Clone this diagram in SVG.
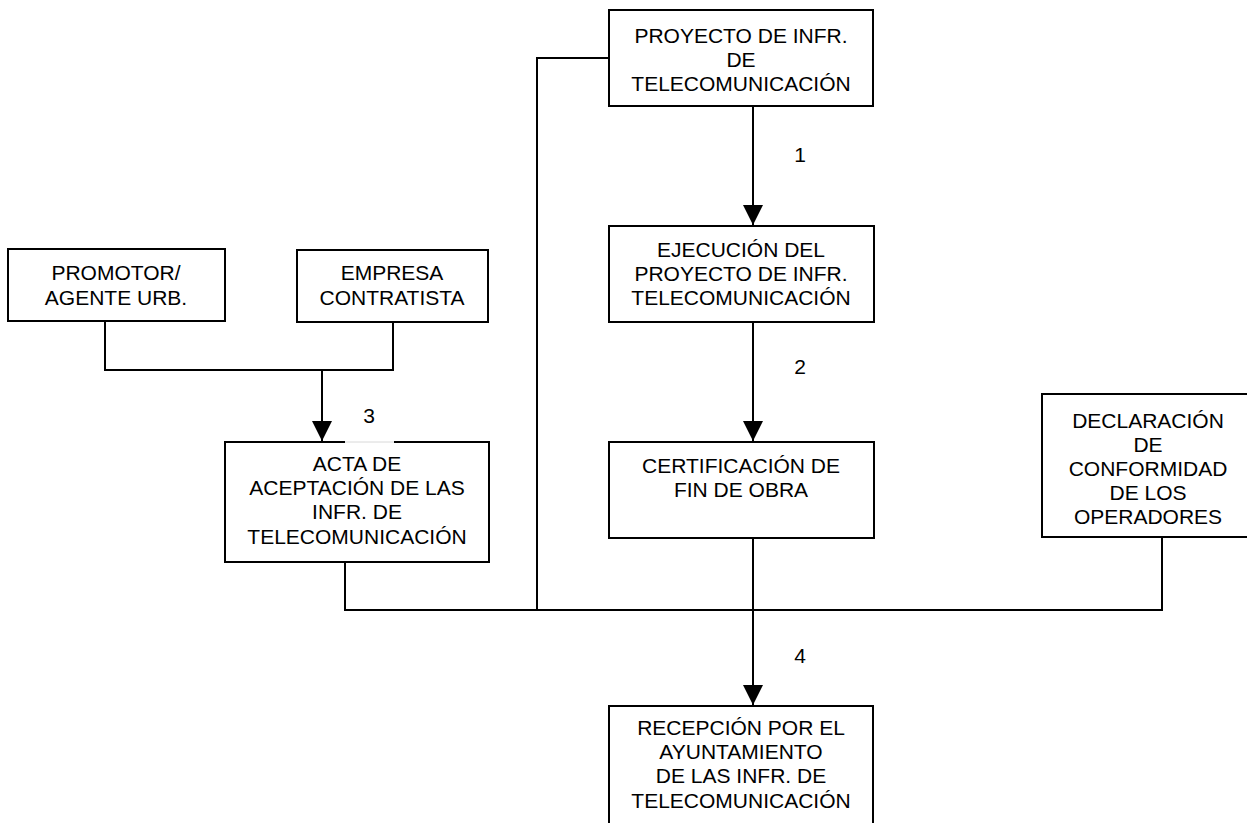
<svg xmlns="http://www.w3.org/2000/svg" width="1247" height="823" viewBox="0 0 1247 823">
  <defs>
    <style>
      .box { fill: #ffffff; stroke: #000000; stroke-width: 2; }
      .wire { fill: none; stroke: #000000; stroke-width: 2; }
      .lbl { font-family: "Liberation Sans", Arial, sans-serif; font-size: 21px; fill: #000000; text-anchor: middle; }
    </style>
    <marker id="head" viewBox="0 0 20 20" refX="20" refY="10" markerWidth="20" markerHeight="20" markerUnits="userSpaceOnUse" orient="auto">
      <path d="M0,0 L20,10 L0,20 Z" fill="#000000"/>
    </marker>
  </defs>
  <rect width="1247" height="823" fill="#ffffff"/>

  <!-- connectors -->
  <g id="connectors">
    <path class="wire" d="M753,106 V225" marker-end="url(#head)"/>
    <path class="wire" d="M753,322 V441" marker-end="url(#head)"/>
    <path class="wire" d="M105,321 V370 H393 V322"/>
    <path class="wire" d="M322,370 V441" marker-end="url(#head)"/>
    <path class="wire" d="M609,58 H537 V610"/>
    <path class="wire" d="M345,562 V610 H1162 V537"/>
    <path class="wire" d="M753,538 V705" marker-end="url(#head)"/>
  </g>

  <g id="n-proyecto">
    <rect class="box" x="609" y="10" width="264" height="96"/>
    <text class="lbl" x="741" y="43">PROYECTO DE INFR.</text>
    <text class="lbl" x="741" y="67">DE</text>
    <text class="lbl" x="741" y="91">TELECOMUNICACIÓN</text>
  </g>

  <g id="n-ejecucion">
    <rect class="box" x="609" y="226" width="265" height="96"/>
    <text class="lbl" x="741" y="257">EJECUCIÓN DEL</text>
    <text class="lbl" x="741" y="281">PROYECTO DE INFR.</text>
    <text class="lbl" x="741" y="305">TELECOMUNICACIÓN</text>
  </g>

  <g id="n-certificacion">
    <rect class="box" x="609" y="442" width="265" height="96"/>
    <text class="lbl" x="741" y="473">CERTIFICACIÓN DE</text>
    <text class="lbl" x="741" y="497">FIN DE OBRA</text>
  </g>

  <g id="n-promotor">
    <rect class="box" x="8" y="249" width="217" height="72"/>
    <text class="lbl" x="116" y="280">PROMOTOR/</text>
    <text class="lbl" x="116" y="305">AGENTE URB.</text>
  </g>

  <g id="n-empresa">
    <rect class="box" x="297" y="250" width="191" height="72"/>
    <text class="lbl" x="392" y="280">EMPRESA</text>
    <text class="lbl" x="392" y="305">CONTRATISTA</text>
  </g>

  <g id="n-acta">
    <rect class="box" x="225" y="442" width="264" height="120"/>
    <line x1="345" y1="442" x2="394" y2="442" stroke="#ffffff" stroke-width="3"/>
    <line x1="345" y1="442" x2="394" y2="442" stroke="#d8d8d8" stroke-width="1"/>
    <text class="lbl" x="357" y="471">ACTA DE</text>
    <text class="lbl" x="357" y="495">ACEPTACIÓN DE LAS</text>
    <text class="lbl" x="357" y="519">INFR. DE</text>
    <text class="lbl" x="357" y="544">TELECOMUNICACIÓN</text>
  </g>

  <g id="n-declaracion">
    <rect class="box" x="1042" y="394" width="210" height="143"/>
    <text class="lbl" x="1148" y="428">DECLARACIÓN</text>
    <text class="lbl" x="1148" y="452">DE</text>
    <text class="lbl" x="1148" y="476">CONFORMIDAD</text>
    <text class="lbl" x="1148" y="500">DE LOS</text>
    <text class="lbl" x="1148" y="524">OPERADORES</text>
  </g>

  <g id="n-recepcion">
    <rect class="box" x="609" y="706" width="264" height="130"/>
    <text class="lbl" x="741" y="735">RECEPCIÓN POR EL</text>
    <text class="lbl" x="741" y="759">AYUNTAMIENTO</text>
    <text class="lbl" x="741" y="783">DE LAS INFR. DE</text>
    <text class="lbl" x="741" y="808">TELECOMUNICACIÓN</text>
  </g>

  <g id="step-labels">
    <text class="lbl" x="800" y="162">1</text>
    <text class="lbl" x="800" y="374">2</text>
    <text class="lbl" x="369" y="423">3</text>
    <text class="lbl" x="800" y="663">4</text>
  </g>
</svg>
